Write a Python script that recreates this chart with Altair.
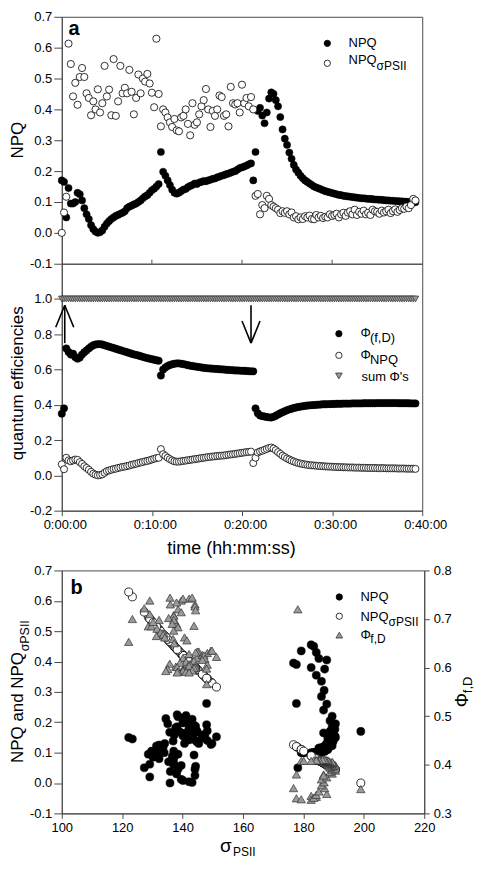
import altair as alt
import pandas as pd

FONT = "Liberation Sans"
AX = "#4a4a4a"

# ---------------- time course (15 s steps) ----------------
STEP_MIN = 0.25

npq = [
    0.170, 0.165, 0.050, 0.145, 0.095, 0.095, 0.100, 0.130,
    0.125, 0.105, 0.080, 0.060, 0.045, 0.025, 0.012, 0.004,
    0.000, 0.002, 0.008, 0.020, 0.030, 0.038, 0.045, 0.050,
    0.055, 0.058, 0.062, 0.065, 0.070, 0.080, 0.085, 0.088,
    0.092, 0.095, 0.100, 0.105, 0.112, 0.118, 0.122, 0.130,
    0.138, 0.143, 0.150, 0.158, 0.262, 0.198, 0.185, 0.170,
    0.155, 0.140, 0.130, 0.127, 0.130, 0.135, 0.140, 0.142,
    0.148, 0.152, 0.155, 0.160, 0.158, 0.163, 0.165, 0.168,
    0.167, 0.170, 0.172, 0.175, 0.176, 0.180, 0.182, 0.185,
    0.187, 0.190, 0.192, 0.195, 0.198, 0.200, 0.205, 0.210,
    0.212, 0.215, 0.218, 0.222, 0.225, 0.170, 0.262, 0.395,
    0.405, 0.380, 0.355, 0.390, 0.435, 0.455, 0.450, 0.430,
    0.410, 0.375, 0.335, 0.305, 0.285, 0.260, 0.240, 0.220,
    0.205, 0.195, 0.185, 0.177, 0.170, 0.165, 0.160, 0.155,
    0.150, 0.147, 0.144, 0.141, 0.138, 0.135, 0.133, 0.131,
    0.129, 0.127, 0.125, 0.123, 0.122, 0.120, 0.119, 0.118,
    0.117, 0.116, 0.115, 0.114, 0.113, 0.112, 0.112, 0.111,
    0.110, 0.110, 0.109, 0.108, 0.108, 0.107, 0.107, 0.106,
    0.105, 0.105, 0.104, 0.104, 0.103, 0.103, 0.102, 0.102,
    0.101, 0.101, 0.100, 0.100, 0.100, 0.099,
]

npq_sigma = [
    0.000, 0.066, 0.117, 0.613, 0.547, 0.442, 0.486, 0.415,
    0.505, 0.534, 0.505, 0.452, 0.437, 0.381, 0.426, 0.400,
    0.465, 0.390, 0.420, 0.541, 0.442, 0.464, 0.381, 0.563,
    0.379, 0.426, 0.541, 0.452, 0.470, 0.452, 0.528, 0.457,
    0.384, 0.437, 0.513, 0.452, 0.500, 0.490, 0.515, 0.484,
    0.454, 0.407, 0.629, 0.450, 0.345, 0.400, 0.390, 0.374,
    0.358, 0.343, 0.369, 0.332, 0.329, 0.374, 0.379, 0.400,
    0.353, 0.316, 0.420, 0.350, 0.358, 0.384, 0.410, 0.430,
    0.466, 0.400, 0.343, 0.395, 0.379, 0.400, 0.445, 0.440,
    0.379, 0.384, 0.345, 0.473, 0.420, 0.416, 0.420, 0.390,
    0.480, 0.420, 0.437, 0.410, 0.440, 0.400, 0.120, 0.126,
    0.060, 0.090, 0.080, 0.120, 0.110, 0.090, 0.085, 0.080,
    0.075, 0.064, 0.070, 0.065, 0.070, 0.060, 0.066, 0.050,
    0.054, 0.044, 0.050, 0.045, 0.054, 0.050, 0.056, 0.045,
    0.044, 0.058, 0.050, 0.055, 0.048, 0.052, 0.050, 0.060,
    0.055, 0.058, 0.062, 0.050, 0.060, 0.065, 0.055, 0.066,
    0.070, 0.060, 0.075, 0.058, 0.068, 0.062, 0.072, 0.060,
    0.065, 0.058, 0.075, 0.070, 0.068, 0.062, 0.072, 0.066,
    0.070, 0.075, 0.064, 0.070, 0.076, 0.068, 0.074, 0.080,
    0.078, 0.085, 0.080, 0.090, 0.110, 0.105,
]

phi_fd = [
    0.350, 0.380, 0.720, 0.700, 0.685, 0.690, 0.670, 0.662,
    0.668, 0.685, 0.698, 0.708, 0.720, 0.730, 0.738, 0.742,
    0.744, 0.744, 0.742, 0.738, 0.734, 0.730, 0.726, 0.722,
    0.718, 0.714, 0.710, 0.706, 0.702, 0.698, 0.694, 0.690,
    0.686, 0.683, 0.680, 0.676, 0.672, 0.668, 0.665, 0.662,
    0.659, 0.656, 0.653, 0.650, 0.566, 0.600, 0.612, 0.620,
    0.626, 0.630, 0.633, 0.635, 0.635, 0.633, 0.631, 0.628,
    0.625, 0.622, 0.620, 0.618, 0.616, 0.614, 0.612, 0.610,
    0.608, 0.607, 0.606, 0.605, 0.604, 0.603, 0.602, 0.601,
    0.600, 0.599, 0.598, 0.597, 0.596, 0.595, 0.595, 0.594,
    0.593, 0.593, 0.592, 0.591, 0.590, 0.590, 0.380, 0.352,
    0.340, 0.336, 0.334, 0.331, 0.329, 0.328, 0.332, 0.338,
    0.345, 0.352, 0.358, 0.364, 0.370, 0.374, 0.378, 0.382,
    0.385, 0.388, 0.390, 0.392, 0.394, 0.396, 0.397, 0.398,
    0.399, 0.400, 0.401, 0.402, 0.403, 0.403, 0.404, 0.404,
    0.405, 0.405, 0.406, 0.406, 0.406, 0.407, 0.407, 0.407,
    0.407, 0.408, 0.408, 0.408, 0.408, 0.408, 0.409, 0.409,
    0.409, 0.409, 0.409, 0.409, 0.410, 0.410, 0.410, 0.410,
    0.410, 0.410, 0.410, 0.410, 0.410, 0.410, 0.409, 0.409,
    0.409, 0.409, 0.409, 0.408, 0.408, 0.408,
]

phi_npq = [
    0.063, 0.035, 0.100, 0.085, 0.080, 0.085, 0.090, 0.088,
    0.075, 0.065, 0.052, 0.042, 0.032, 0.020, 0.010, 0.004,
    0.000, 0.002, 0.006, 0.015, 0.024, 0.028, 0.032, 0.036,
    0.038, 0.042, 0.045, 0.048, 0.050, 0.053, 0.056, 0.060,
    0.063, 0.066, 0.070, 0.073, 0.076, 0.080, 0.082, 0.086,
    0.090, 0.094, 0.098, 0.100, 0.149, 0.120, 0.110, 0.100,
    0.092, 0.085, 0.080, 0.078, 0.078, 0.080, 0.082, 0.084,
    0.086, 0.088, 0.090, 0.092, 0.094, 0.096, 0.098, 0.100,
    0.102, 0.104, 0.105, 0.107, 0.108, 0.110, 0.111, 0.112,
    0.113, 0.115, 0.117, 0.119, 0.120, 0.122, 0.124, 0.126,
    0.128, 0.130, 0.132, 0.133, 0.135, 0.070, 0.100, 0.130,
    0.136, 0.140, 0.145, 0.150, 0.155, 0.158, 0.152, 0.143,
    0.132, 0.122, 0.112, 0.104, 0.096, 0.090, 0.084, 0.079,
    0.074, 0.070, 0.067, 0.064, 0.062, 0.060, 0.058, 0.057,
    0.056, 0.055, 0.054, 0.053, 0.052, 0.051, 0.050, 0.050,
    0.049, 0.048, 0.048, 0.047, 0.047, 0.046, 0.046, 0.045,
    0.045, 0.045, 0.044, 0.044, 0.044, 0.043, 0.043, 0.043,
    0.042, 0.042, 0.042, 0.042, 0.041, 0.041, 0.041, 0.041,
    0.040, 0.040, 0.040, 0.040, 0.040, 0.039, 0.039, 0.039,
    0.039, 0.038, 0.038, 0.038, 0.038, 0.037,
]

time_min = [round(i * STEP_MIN, 2) for i in range(len(npq))]
sum_phi = [1.0 for _ in time_min]          # sum of the quantum efficiencies
SIGMA_DARK = 199.0                          # sigma_PSII where NPQ_sigma = 0
sigma_psii = [SIGMA_DARK / (1.0 + v) for v in npq_sigma]

time_tick_values = [0, 10, 20, 30, 40]
time_tick_labels = ["0:00:00", "0:10:00", "0:20:00", "0:30:00", "0:40:00"]
inner_tick_values = [10, 20, 30]
npq_ticks = [-0.1, 0.0, 0.1, 0.2, 0.3, 0.4, 0.5, 0.6, 0.7]
qe_ticks = [-0.2, 0.0, 0.2, 0.4, 0.6, 0.8, 1.0]
sigma_ticks = [100, 120, 140, 160, 180, 200, 220]
phi_ticks = [0.3, 0.4, 0.5, 0.6, 0.7, 0.8]

arrow_time = [0.33, 21.0]
arrow_tail = [0.75, 0.965]
arrow_tip = [0.965, 0.75]
ARROW_HEAD_DT = 1.0
ARROW_HEAD_DV = 0.125

df = pd.DataFrame({
    "t": time_min, "npq": npq, "npq_sigma": npq_sigma, "phi_fd": phi_fd,
    "phi_npq": phi_npq, "sum_phi": sum_phi, "sigma": sigma_psii,
})
df_ticks = pd.DataFrame({"tick": inner_tick_values})
segs = []
for t, a, b in zip(arrow_time, arrow_tail, arrow_tip):
    s = 1 if b > a else -1
    segs.append((t, a, t, b))
    segs.append((t - ARROW_HEAD_DT, b - s * ARROW_HEAD_DV, t, b))
    segs.append((t + ARROW_HEAD_DT, b - s * ARROW_HEAD_DV, t, b))
df_arrows = pd.DataFrame(segs, columns=["x0", "y0", "x1", "y1"])
one = pd.DataFrame({"k": [0]})

NUM_EXPR = "replace(format(datum.value, '.1f'), '\u2212', '-')"
TIME_EXPR = "".join(
    f"datum.value == {v} ? '{l}' : " for v, l in zip(time_tick_values, time_tick_labels)
) + "''"

W_TOP, H_TOP, H_MID, H_GAP, W_B, H_B = 362, 248, 248, 60, 364, 244
TITLE_X = -38.5
TRI_FILL, TRI_STROKE = "#999999", "#333333"


def txt(x, y, s, size=13, angle=0, weight="normal", align="left"):
    kw = dict(font=FONT, fontSize=size, align=align, baseline="alphabetic",
              color="black", fontWeight=weight)
    if angle:
        kw["angle"] = angle
    return alt.Chart(one).mark_text(**kw).encode(
        x=alt.value(x), y=alt.value(y), text=alt.value(s))


def sym(x, y, shape, fill, stroke, size=40):
    return alt.Chart(one).mark_point(
        shape=shape, filled=True, fill=fill, stroke=stroke, strokeWidth=0.8,
        size=size, opacity=1).encode(x=alt.value(x), y=alt.value(y))


def pts(shape, fill, stroke, size, sw=0.8):
    return alt.Chart(df).mark_point(shape=shape, filled=True, fill=fill, stroke=stroke,
                                    strokeWidth=sw, size=size, opacity=1)


# ---------------- panel a, top ----------------
t_scale = alt.Scale(domain=[0, 40], nice=False, zero=False)
top_scale = alt.Scale(domain=[-0.1, 0.7], nice=False, zero=False)
ax_top_y = alt.Axis(values=npq_ticks, labelExpr=NUM_EXPR, tickSize=8, labelPadding=2, title=None)
X_top = alt.X("t:Q", scale=t_scale, axis=None)

top = alt.layer(
    pts("circle", "black", "black", 52, 0.5).encode(
        x=X_top, y=alt.Y("npq:Q", scale=top_scale, axis=ax_top_y)),
    pts("circle", "white", "black", 52).encode(
        x=X_top, y=alt.Y("npq_sigma:Q", scale=top_scale, axis=ax_top_y)),
    alt.Chart(df_ticks).mark_rule(color=AX, strokeWidth=1).encode(
        x=alt.X("tick:Q", scale=t_scale, axis=None),
        y=alt.value(H_TOP), y2=alt.value(H_TOP - 4)),
    txt(6.7, 18.3, "a", size=20, weight="bold"),
    txt(TITLE_X, H_TOP / 2, "NPQ", size=17, angle=270, align="center"),
    sym(266.7, 26.7, "circle", "black", "black"),
    txt(288, 30, "NPQ"),
    sym(266.7, 46.7, "circle", "white", "black"),
    txt(288, 47.7, "NPQ"),
    txt(316.2, 53, "\u03c3PSII", size=12),
).properties(width=W_TOP, height=H_TOP)

# ---------------- panel a, quantum efficiencies ----------------
mid_scale = alt.Scale(domain=[-0.2, 1.2], nice=False, zero=False)
ax_mid_y = alt.Axis(values=qe_ticks, labelExpr=NUM_EXPR, tickSize=8, labelPadding=2, title=None)
ax_time = alt.Axis(values=time_tick_values, labelExpr=TIME_EXPR, tickSize=5, labelPadding=3,
                   labelFlush=False, labelOffset=3, title="time (hh:mm:ss)",
                   titleFontSize=18, titlePadding=8, titleX=170)
X_mid = alt.X("t:Q", scale=t_scale, axis=ax_time)

mid = alt.layer(
    pts("circle", "black", "black", 55, 0.5).encode(
        x=X_mid, y=alt.Y("phi_fd:Q", scale=mid_scale, axis=ax_mid_y)),
    pts("circle", "white", "black", 50).encode(
        x=X_mid, y=alt.Y("phi_npq:Q", scale=mid_scale, axis=ax_mid_y)),
    pts("triangle-down", TRI_FILL, TRI_STROKE, 45, 0.7).encode(
        x=X_mid, y=alt.Y("sum_phi:Q", scale=mid_scale, axis=ax_mid_y)),
    alt.Chart(df_arrows).mark_rule(color="black", strokeWidth=1.6).encode(
        x=alt.X("x0:Q", scale=t_scale, axis=ax_time), x2="x1:Q",
        y=alt.Y("y0:Q", scale=mid_scale, axis=ax_mid_y), y2="y1:Q"),
    txt(TITLE_X, H_MID / 2 - 4, "quantum efficiencies", size=17, angle=270, align="center"),
    sym(278.3, 70.3, "circle", "black", "black"),
    txt(300, 74, "\u03a6"),
    txt(309.5, 79, "(f,D)"),
    sym(278.3, 92, "circle", "white", "black"),
    txt(300, 96, "\u03a6"),
    txt(309.5, 101, "NPQ"),
    sym(278.3, 112.7, "triangle-down", TRI_FILL, TRI_STROKE, 45),
    txt(301, 118, "sum \u03a6's"),
).properties(width=W_TOP, height=H_MID)

spacer = alt.Chart(one).mark_point(opacity=0).encode(
    x=alt.value(0), y=alt.value(0)
).properties(width=W_TOP, height=H_GAP, view=alt.ViewBackground(strokeOpacity=0))

# ---------------- panel b ----------------
sig_scale = alt.Scale(domain=[100, 220], nice=False, zero=False)
ax_sig = alt.Axis(values=sigma_ticks, format="d", tickSize=5, labelPadding=3,
                  labelFlush=False, title=None)
bl_scale = alt.Scale(domain=[-0.1, 0.7], nice=False, zero=False)
br_scale = alt.Scale(domain=[0.3, 0.8], nice=False, zero=False)
ax_bl = alt.Axis(values=npq_ticks, labelExpr=NUM_EXPR, tickSize=8, labelPadding=2, title=None)
ax_br = alt.Axis(orient="right", values=phi_ticks, labelExpr=NUM_EXPR, tickSize=5,
                 labelPadding=4, title=None)
X_b = alt.X("sigma:Q", scale=sig_scale, axis=ax_sig)

MAIN_W = 111.5  # width of "NPQ and NPQ" at 17 px
y0 = H_B / 2 + 71.3
ry0 = H_B / 2 + 15.5

b_left = alt.layer(
    pts("circle", "black", "black", 65, 0.5).encode(
        x=X_b, y=alt.Y("npq:Q", scale=bl_scale, axis=ax_bl)),
    pts("circle", "white", "black", 65).encode(
        x=X_b, y=alt.Y("npq_sigma:Q", scale=bl_scale, axis=ax_bl)),
    txt(8.7, 24, "b", size=20, weight="bold"),
    txt(TITLE_X, y0, "NPQ and NPQ", size=17, angle=270),
    txt(TITLE_X + 5.5, y0 - MAIN_W - 0.5, "\u03c3PSII", size=12.5, angle=270),
    txt(159, H_B + 39, "\u03c3", size=19),
    txt(172, H_B + 43, "PSII", size=12),
    txt(W_B + 44, ry0, "\u03a6", size=18, angle=270),
    txt(W_B + 48, ry0 - 14.2, "f,D", size=13, angle=270),
    sym(278.7, 26.7, "circle", "black", "black"),
    txt(300, 31, "NPQ"),
    sym(278.7, 46, "circle", "white", "black"),
    txt(300, 51, "NPQ"),
    txt(328.2, 56, "\u03c3PSII", size=12),
    sym(278.7, 65, "triangle-up", TRI_FILL, TRI_STROKE, 45),
    txt(300, 69, "\u03a6"),
    txt(309.9, 72.5, "f,D", size=12),
)
b_right = pts("triangle-up", TRI_FILL, TRI_STROKE, 70, 0.7).encode(
    x=X_b, y=alt.Y("phi_fd:Q", scale=br_scale, axis=ax_br))

bottom = alt.layer(b_left, b_right).resolve_scale(y="independent").properties(
    width=W_B, height=H_B)

chart = alt.vconcat(top, mid, spacer, bottom, spacing=0, bounds="flush").properties(
    padding=0
).configure(font=FONT).configure_view(stroke=AX, strokeWidth=1).configure_axis(
    grid=False, domainColor=AX, tickColor=AX, labelFont=FONT, labelFontSize=13,
    labelColor="black", titleFont=FONT, titleColor="black", titleFontWeight="normal",
)

chart.save("out.html", embed_options={"renderer": "svg", "actions": False})
